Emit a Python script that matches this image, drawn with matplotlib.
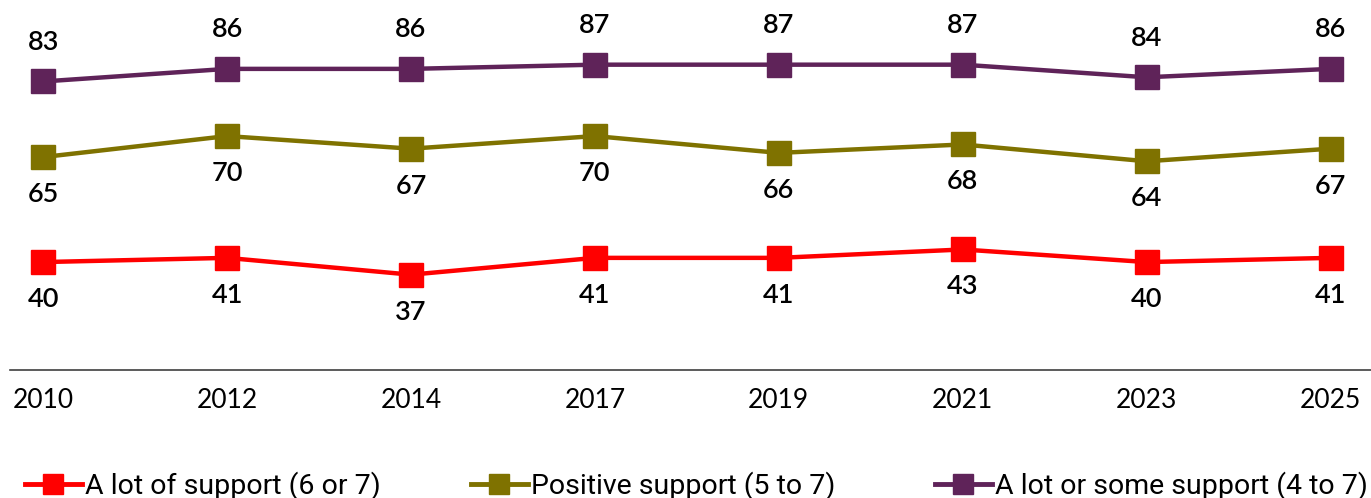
import matplotlib
matplotlib.use("Agg")
import matplotlib.pyplot as plt
from matplotlib.lines import Line2D

years = ["2010", "2012", "2014", "2017", "2019", "2021", "2023", "2025"]
a_lot = [40, 41, 37, 41, 41, 43, 40, 41]
positive = [65, 70, 67, 70, 66, 68, 64, 67]
some = [83, 86, 86, 87, 87, 87, 84, 86]

names = ["A lot of support (6 or 7)", "Positive support (5 to 7)", "A lot or some support (4 to 7)"]
colors = ["#FF0000", "#7F7200", "#5F2359"]
series = [a_lot, positive, some]
label_pos = ["below", "below", "above"]

W, H = 1371, 498
fig = plt.figure(figsize=(W / 100, H / 100), dpi=100)
ax = fig.add_axes([10 / W, (H - 370) / H, 1361 / W, 370 / H])

x = list(range(len(years)))
for vals, c, pos in zip(series, colors, label_pos):
    ax.plot(x, vals, color=c, lw=3.2, marker="s", markersize=17, solid_capstyle="butt", zorder=3)
    for xi, v in zip(x, vals):
        dy = 28 if pos == "above" else -27
        ax.annotate(str(v), (xi, v), xytext=(0, dy), textcoords="offset points",
                    ha="center", va="center", fontsize=19.5, family="Lato",
                    weight="semibold", color="black")

ax.set_xlim(-0.18, 7.22)
ax.set_ylim(14.3, 102.4)
ax.set_xticks(x)
ax.set_xticklabels(years, family="Lato", fontsize=19)
ax.tick_params(axis="x", length=0, pad=13)
ax.set_yticks([])
for s in ["left", "right", "top"]:
    ax.spines[s].set_visible(False)
ax.spines["bottom"].set_color("#404040")
ax.spines["bottom"].set_linewidth(1.2)

starts = [25, 471, 935]
for name, c, sx in zip(names, colors, starts):
    h = Line2D([], [], color=c, lw=3.5, marker="s", markersize=14)
    fig.legend([h], [name], loc="center left", bbox_to_anchor=(sx / W, 1 - 486 / H),
               frameon=False, borderpad=0, borderaxespad=0, handlelength=2.0,
               handletextpad=0.1, prop={"family": "Roboto", "size": 20.5})

fig.savefig("out.png", dpi=100)
